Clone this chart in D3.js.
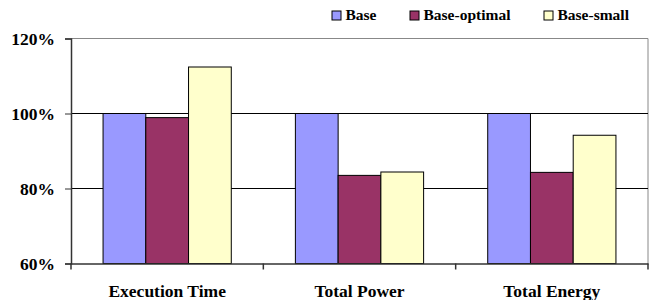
<!DOCTYPE html>
<html>
<head>
<meta charset="utf-8">
<script src="https://cdn.jsdelivr.net/npm/d3@7"></script>
<style>
  body { margin: 0; background: #fff; }
</style>
</head>
<body>
<div id="chart"></div>
<script>
const categories = ["Execution Time", "Total Power", "Total Energy"]
const seriesNames = ["Base", "Base-optimal", "Base-small"]
const base = [100, 100, 100]
const baseOptimal = [98.9, 83.5, 84.3]
const baseSmall = [112.4, 84.4, 94.2]
const yTicks = [60, 80, 100, 120]
const colors = ["#9999FF", "#993366", "#FFFFCC"]

const width = 650, height = 300
const marginLeft = 71, marginRight = 2, marginTop = 38.5, marginBottom = 36.5

const series = [base, baseOptimal, baseSmall]

const serif = sel => sel
  .style("font-family", "Liberation Serif")
  .style("font-weight", "bold")
  .attr("fill", "#000")

const svg = d3.select("#chart").append("svg")
  .attr("width", width)
  .attr("height", height)

const x = d3.scaleBand()
  .domain(categories)
  .range([marginLeft, width - marginRight])

const xInner = d3.scaleBand()
  .domain(seriesNames)
  .range([0, x.bandwidth()])
  .paddingOuter(0.75)

const y = d3.scaleLinear()
  .domain([60, 120])
  .range([height - marginBottom, marginTop])

// plot border (top & right)
svg.append("path")
  .attr("d", `M${marginLeft},${y(120)}H${width - marginRight}V${y(60)}`)
  .attr("fill", "none")
  .attr("stroke", "#888")
  .attr("stroke-width", 1)

// gridlines
svg.append("g")
  .selectAll("line")
  .data(yTicks.filter(d => d > 60 && d < 120))
  .join("line")
  .attr("x1", marginLeft)
  .attr("x2", width - marginRight)
  .attr("y1", d => y(d))
  .attr("y2", d => y(d))
  .attr("stroke", "#000")
  .attr("stroke-width", 1)

// bars
const groups = svg.append("g")
  .selectAll("g")
  .data(categories)
  .join("g")
  .attr("transform", d => `translate(${x(d)},0)`)

groups.selectAll("rect")
  .data((c, i) => seriesNames.map((s, j) => ({ s, v: series[j][i], j })))
  .join("rect")
  .attr("x", d => xInner(d.s))
  .attr("width", xInner.bandwidth())
  .attr("y", d => y(d.v))
  .attr("height", d => y(60) - y(d.v))
  .attr("fill", d => colors[d.j])
  .attr("stroke", "#000")
  .attr("stroke-width", 1)

// y axis
const yAxis = svg.append("g")
  .attr("transform", `translate(${marginLeft},0)`)
  .call(d3.axisLeft(y).tickValues(yTicks).tickFormat(d => d + "%").tickSize(6).tickPadding(10))
yAxis.select(".domain").attr("stroke", "#333").attr("stroke-width", 1.5)
yAxis.selectAll(".tick line").attr("stroke", "#333")
yAxis.selectAll("text").call(serif).attr("font-size", 17.5).attr("dy", "0.35em")

// x axis
const xAxis = svg.append("g")
  .attr("transform", `translate(0,${y(60)})`)
  .call(d3.axisBottom(x).tickSize(0))
xAxis.select(".domain").attr("stroke", "#333").attr("stroke-width", 1.5)
xAxis.selectAll("text").call(serif).attr("font-size", 17.5).attr("y", 33.5).attr("dy", 0)

// category boundary ticks
svg.append("g")
  .selectAll("line")
  .data(categories.concat([null]))
  .join("line")
  .attr("x1", (d, i) => marginLeft + i * x.step())
  .attr("x2", (d, i) => marginLeft + i * x.step())
  .attr("y1", y(60))
  .attr("y2", y(60) + 6)
  .attr("stroke", "#333")
  .attr("stroke-width", 1.5)

// legend
const legendX = [332, 410, 544]
const legend = svg.append("g")
  .selectAll("g")
  .data(seriesNames)
  .join("g")
  .attr("transform", (d, i) => `translate(${legendX[i]},11)`)
legend.append("rect")
  .attr("width", 9)
  .attr("height", 9)
  .attr("fill", (d, i) => colors[i])
  .attr("stroke", "#000")
  .attr("stroke-width", 1)
legend.append("text")
  .attr("x", 13.5)
  .attr("y", 9)
  .attr("font-size", 15.5)
  .call(serif)
  .text(d => d)
</script>
</body>
</html>
